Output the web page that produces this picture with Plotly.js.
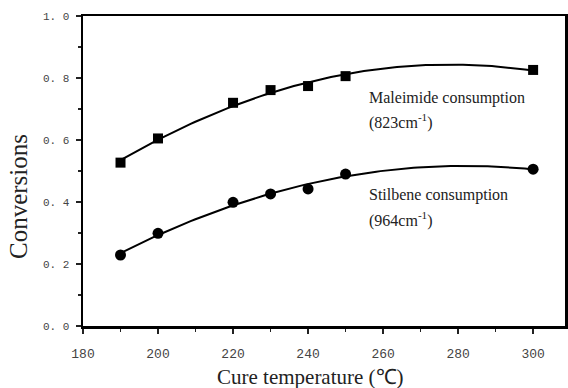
<!DOCTYPE html>
<html><head><meta charset="utf-8">
<script src="https://cdn.plot.ly/plotly-3.0.1.min.js"></script>
<style>body{margin:0;background:#fff}#c{width:568px;height:388px}</style>
</head><body><div id="c"></div>
<script>
const temps = [190, 200, 220, 230, 240, 250, 300];
const maleimide = [0.527, 0.605, 0.72, 0.761, 0.774, 0.806, 0.826];
const stilbene = [0.229, 0.299, 0.399, 0.426, 0.442, 0.49, 0.506];
const xTickVals = [180, 200, 220, 240, 260, 280, 300];
const yTickVals = [0, 0.2, 0.4, 0.6, 0.8, 1.0];
const yTickText = ['0. 0', '0. 2', '0. 4', '0. 6', '0. 8', '1. 0'];

// quadratic least-squares fit of the measured points
function quadFit(xs, ys) {
  const n = xs.length; let S = [0,0,0,0,0], T = [0,0,0];
  for (let i = 0; i < n; i++) {
    const x = xs[i], y = ys[i];
    for (let k = 0; k < 5; k++) S[k] += Math.pow(x, k);
    for (let k = 0; k < 3; k++) T[k] += y * Math.pow(x, k);
  }
  const A = [[S[0],S[1],S[2],T[0]],[S[1],S[2],S[3],T[1]],[S[2],S[3],S[4],T[2]]];
  for (let i = 0; i < 3; i++) {
    for (let j = i + 1; j < 3; j++) {
      const f = A[j][i] / A[i][i];
      for (let k = i; k < 4; k++) A[j][k] -= f * A[i][k];
    }
  }
  const c = [0,0,0];
  for (let i = 2; i >= 0; i--) {
    let s = A[i][3];
    for (let k = i + 1; k < 3; k++) s -= A[i][k] * c[k];
    c[i] = s / A[i][i];
  }
  return c;
}
function curve(xs, ys) {
  const c = quadFit(xs, ys), cx = [], cy = [];
  const x0 = xs[0], x1 = xs[xs.length - 1];
  for (let i = 0; i <= 100; i++) {
    const x = x0 + (x1 - x0) * i / 100;
    cx.push(x); cy.push(c[0] + c[1] * x + c[2] * x * x);
  }
  return {x: cx, y: cy};
}
const mc = curve(temps, maleimide), sc = curve(temps, stilbene);
const serif = 'Liberation Serif, Times New Roman, serif';
const mono = 'Liberation Mono, Courier New, monospace';
const data = [
  {x: mc.x, y: mc.y, mode: 'lines', line: {color: '#000', width: 2}, hoverinfo: 'skip'},
  {x: sc.x, y: sc.y, mode: 'lines', line: {color: '#000', width: 2}, hoverinfo: 'skip'},
  {x: temps, y: maleimide, mode: 'markers', marker: {symbol: 'square', size: 10, color: '#000'}},
  {x: temps, y: stilbene, mode: 'markers', marker: {symbol: 'circle', size: 11, color: '#000'}}
];
const annFont = {size: 16, color: '#222', family: serif};
const layout = {
  width: 568, height: 388, showlegend: false,
  paper_bgcolor: '#fff', plot_bgcolor: '#fff',
  margin: {l: 83, r: 3, t: 16, b: 62},
  font: {family: serif, color: '#333'},
  xaxis: {
    range: [180, 308.5], tickvals: xTickVals,
    ticks: 'outside', ticklen: 5, tickwidth: 1.5, tickcolor: '#222',
    minor: {tickvals: [190, 210, 230, 250, 270, 290], ticks: 'outside', ticklen: 3, tickcolor: '#222'},
    showgrid: false, zeroline: false, showline: true, linewidth: 2.5, linecolor: '#000', mirror: true,
    tickfont: {size: 13, color: '#444', family: mono}, ticklabelstandoff: 9
  },
  yaxis: {
    range: [0, 1.0], tickvals: yTickVals, ticktext: yTickText,
    ticks: 'outside', ticklen: 5, tickwidth: 1.5, tickcolor: '#222',
    minor: {tickvals: [0.1, 0.3, 0.5, 0.7, 0.9], ticks: 'outside', ticklen: 3, tickcolor: '#222'},
    showgrid: false, zeroline: false, showline: true, linewidth: 2.5, linecolor: '#000', mirror: true,
    tickfont: {size: 11, color: '#444', family: mono}, ticklabelstandoff: 4
  },
  annotations: [
    {xref: 'x', yref: 'y', x: 255.7, y: 0.737, xanchor: 'left', yanchor: 'middle', showarrow: false,
     text: 'Maleimide consumption', font: annFont},
    {xref: 'x', yref: 'y', x: 255.7, y: 0.661, xanchor: 'left', yanchor: 'middle', showarrow: false,
     text: '(823cm<sup>-1</sup>)', font: annFont},
    {xref: 'x', yref: 'y', x: 255.7, y: 0.423, xanchor: 'left', yanchor: 'middle', showarrow: false,
     text: 'Stilbene consumption', font: annFont},
    {xref: 'x', yref: 'y', x: 255.7, y: 0.342, xanchor: 'left', yanchor: 'middle', showarrow: false,
     text: '(964cm<sup>-1</sup>)', font: annFont},
    {xref: 'paper', yref: 'paper', x: (310 - 83) / 482, y: -(377 - 326) / 310, xanchor: 'center', yanchor: 'middle',
     showarrow: false, text: 'Cure temperature (℃)', font: {size: 21, color: '#222', family: serif}},
    {xref: 'paper', yref: 'paper', x: -(83 - 18) / 482, y: (326 - 197) / 310, xanchor: 'center', yanchor: 'middle',
     showarrow: false, textangle: -90, text: 'Conversions', font: {size: 25, color: '#222', family: serif}}
  ]
};
Plotly.newPlot('c', data, layout, {displayModeBar: false, staticPlot: true});
</script></body></html>
